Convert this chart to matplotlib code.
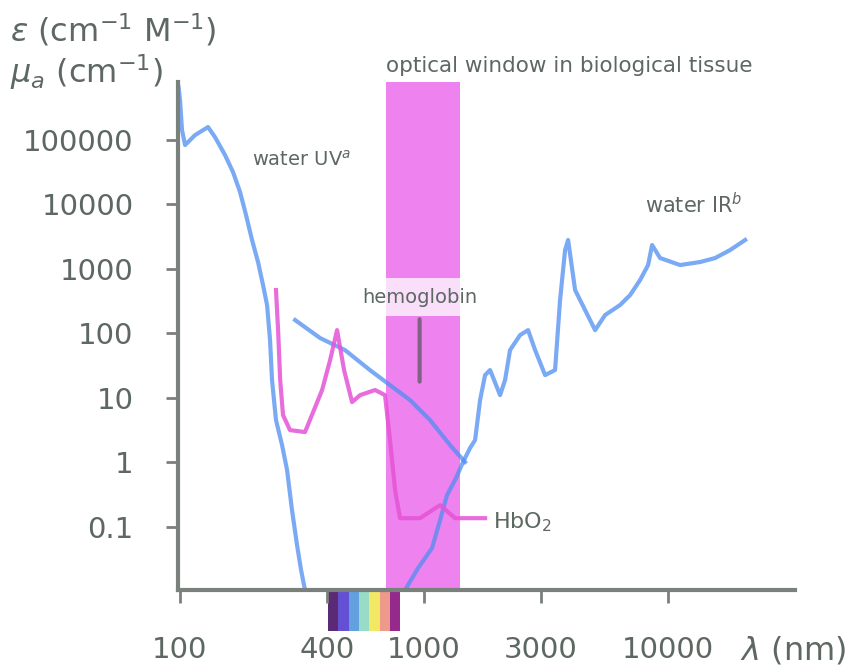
import matplotlib
matplotlib.use("Agg")
import matplotlib.pyplot as plt
import numpy as np
from matplotlib.ticker import FixedLocator, FixedFormatter, NullLocator

# water, UV side, drops below the axis in the visible and comes back in the NIR / IR
water_uv_nm = [99, 100.4, 102.3, 105.3, 115.6, 130.7, 139.6, 153.4, 165.4, 176.7, 187.0, 197.9,
               209.4, 219.5, 228.0, 234.5, 238.9, 248.0, 262.6, 275.3, 288.4, 302.4, 314.1, 326.0,
               400, 550, 700, 837, 946, 1079, 1164, 1243, 1353, 1445, 1544, 1619, 1697, 1779, 1865,
               2049, 2148, 2251, 2474, 2668, 2850, 3132, 3440, 3606, 3781, 3890, 4155, 4565, 5017,
               5511, 6348, 6977, 7664, 8267, 8583, 9256, 11180, 13500, 15550, 17910, 20630]
water_uv_mua = [650000, 409000, 140000, 82200, 117000, 156000, 109000, 57500, 31300, 15400, 6750, 2770,
                1262, 555, 272, 77.9, 18.7, 4.48, 1.835, 0.751, 0.180, 0.0517, 0.0212, 0.0104,
                0.004, 0.0025, 0.004, 0.0104, 0.0227, 0.0464, 0.126, 0.308, 0.565, 1.0, 1.65, 2.19, 9.15, 22.3, 26.7,
                10.9, 18.7, 54.5, 93.1, 111, 54.5, 22.3, 26.7, 325, 1936, 2770, 464, 227, 111,
                190, 272, 388, 663, 1133, 2314, 1455, 1133, 1262, 1455, 1936, 2770]

# second blue series, nearly straight in log-log
melanin_nm = [297, 376, 475, 601, 726, 877, 1059, 1279, 1473]
melanin_mua = [159, 83.6, 54.5, 26.7, 15.6, 9.15, 4.48, 1.835, 1.0]

# oxy-hemoglobin
hbo2_nm = [248, 253, 258, 265, 283, 326, 352, 383, 413, 441, 471, 508, 548, 631, 693,
           726, 762, 798, 964, 1164, 1341, 1779]
hbo2_eps = [464, 111, 18.7, 5.35, 3.13, 2.92, 5.96, 13.1, 38.1, 111, 26.7, 8.51, 10.9, 13.1, 10.9,
            2.19, 0.368, 0.135, 0.135, 0.215, 0.135, 0.135]

window_nm = (700, 1400)
visible_nm = (405, 800)
spectrum_colors = ['#5b2a74', '#6450d2', '#62a0e0', '#98dcc8', '#f2e863', '#ee9a8a', '#962a8c']

x_ticks = [100, 400, 1000, 3000, 10000]
x_tick_labels = ['100', '400', '1000', '3000', '10000']
y_ticks = [0.1, 1, 10, 100, 1000, 10000, 100000]
y_tick_labels = ['0.1', '1', '10', '100', '1000', '10000', '100000']

GRAY = '#7a807c'
TEXT = '#5d6862'
BLUE = '#4f8ef2'
PINK = '#e553d6'

plt.rcParams['font.family'] = ['DejaVu Sans']

fig = plt.figure(figsize=(8.56, 6.65), dpi=100)
ax = fig.add_axes([178 / 856, 1 - 590 / 665, (795 - 178) / 856, (590 - 82) / 665])
ax.set_xscale('log')
ax.set_yscale('log')
ax.set_xlim(98.5, 33000)
ax.set_ylim(0.0104, 779000)

# optical window band
ax.axvspan(window_nm[0], window_nm[1], color='violet', lw=0, zorder=1)

ax.plot(water_uv_nm, water_uv_mua, color=BLUE, lw=3, alpha=0.75, zorder=3)
ax.plot(melanin_nm, melanin_mua, color=BLUE, lw=3, alpha=0.75, zorder=3)
ax.plot(hbo2_nm, hbo2_eps, color=PINK, lw=3, alpha=0.85, zorder=3)

# visible spectrum strip under the axis
edges = np.geomspace(visible_nm[0], visible_nm[1], len(spectrum_colors) + 1)
for i in range(len(spectrum_colors)):
    ax.axvspan(edges[i], edges[i + 1], ymin=-0.08, ymax=0, color=spectrum_colors[i],
               lw=0, clip_on=False, zorder=0)

ax.text(window_nm[0], 1.031, 'optical window in biological tissue', transform=ax.get_xaxis_transform(),
        ha='left', va='center', fontsize=15.5, color=TEXT)
ax.annotate('hemoglobin', xy=(960, 16), xytext=(960, 360), ha='center', va='center',
            fontsize=14, color=TEXT, zorder=5,
            bbox=dict(boxstyle='square,pad=0.5', fc='white', ec='none', alpha=0.75),
            arrowprops=dict(arrowstyle='-', color='#555555', lw=3, alpha=0.7))
ax.text(198, 48100, r'water UV$^{a}$', ha='left', va='center', fontsize=14, color=TEXT)
ax.text(8040, 9650, r'water IR$^{b}$', ha='left', va='center', fontsize=15, color=TEXT)
ax.text(1919, 0.117, r'HbO$_2$', ha='left', va='center', fontsize=16, color=TEXT)

for side in ['top', 'right']:
    ax.spines[side].set_visible(False)
for side in ['left', 'bottom']:
    ax.spines[side].set_color(GRAY)
    ax.spines[side].set_linewidth(3)
    ax.spines[side].set_zorder(4)

ax.xaxis.set_major_locator(FixedLocator(x_ticks))
ax.xaxis.set_major_formatter(FixedFormatter(x_tick_labels))
ax.xaxis.set_minor_locator(NullLocator())
ax.yaxis.set_major_locator(FixedLocator(y_ticks))
ax.yaxis.set_major_formatter(FixedFormatter(y_tick_labels))
ax.yaxis.set_minor_locator(NullLocator())
ax.tick_params(axis='x', length=9, width=2, color=GRAY, pad=24, labelsize=21, labelcolor=TEXT)
ax.tick_params(axis='y', length=9, width=2, color=GRAY, pad=23, labelsize=21, labelcolor=TEXT)

fig.text(10 / 856, 1 - 30 / 665, r'$\epsilon$ (cm$^{-1}$ M$^{-1}$)', ha='left', va='center',
         fontsize=23, color=TEXT)
fig.text(10 / 856, 1 - 72 / 665, r'$\mu_a$ (cm$^{-1}$)', ha='left', va='center',
         fontsize=23, color=TEXT)
fig.text(740 / 856, 1 - 650 / 665, r'$\lambda$ (nm)', ha='left', va='center',
         fontsize=23, color=TEXT)

fig.savefig('out.png', dpi=100)
